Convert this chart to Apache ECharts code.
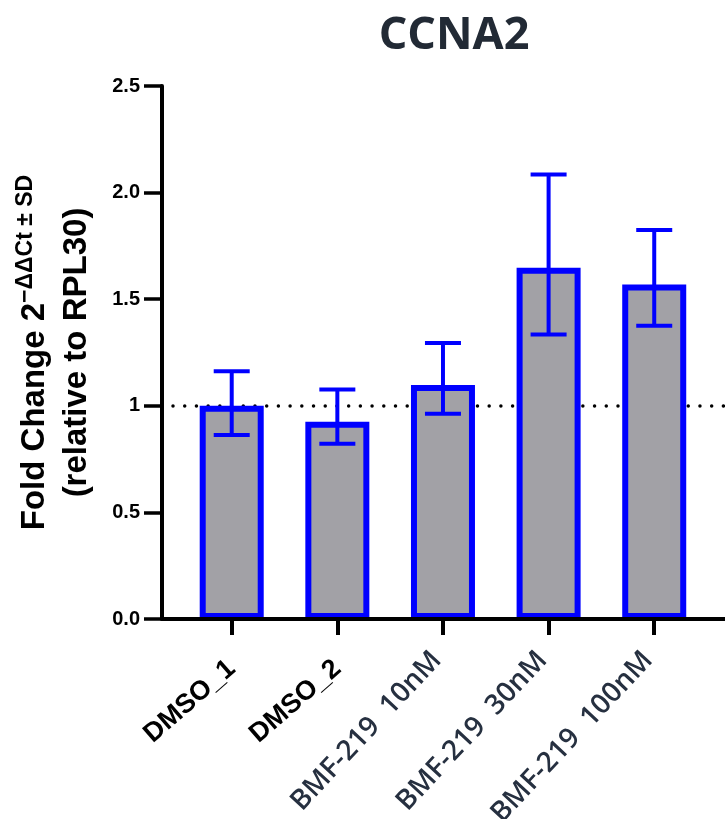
<!DOCTYPE html>
<html>
<head>
<meta charset="utf-8">
<script src="https://cdn.jsdelivr.net/npm/echarts@6/dist/echarts.min.js"></script>
<style>
html,body{margin:0;padding:0;background:#fff;}
#chart{width:725px;height:819px;}
</style>
</head>
<body>
<div id="chart"></div>
<script>
const categories = ['DMSO_1', 'DMSO_2', 'BMF-219  10nM', 'BMF-219  30nM', 'BMF-219  100nM'];
const meanValues = [1.0, 0.925, 1.097, 1.648, 1.569];
const errLow = [0.863, 0.822, 0.963, 1.335, 1.375];
const errHigh = [1.162, 1.076, 1.294, 2.085, 1.825];
const yTickValues = [0, 0.5, 1, 1.5, 2, 2.5];
const referenceLevel = 1;
const titleText = 'CCNA2';

const chart = echarts.init(document.getElementById('chart'), null, {renderer: 'canvas'});
const idx = categories.map((c, i) => i);
const xMin = -0.66, xMax = 4.67;

const option = {
  backgroundColor: '#ffffff',
  animation: false,
  title: {
    text: titleText,
    left: 449,
    top: 9,
    textAlign: 'center',
    textStyle: {fontFamily: 'Open Sans', fontWeight: 700, fontSize: 45, color: '#222a35'}
  },
  grid: {left: 162, right: 0, top: 86, bottom: 200, containLabel: false, outerBoundsMode: 'none'},
  xAxis: [{
    type: 'value', min: xMin, max: xMax, position: 'bottom', z: 10,
    axisLine: {show: true, onZero: false, lineStyle: {color: '#000', width: 4}},
    axisTick: {show: true, customValues: idx, length: 16, lineStyle: {color: '#000', width: 4}},
    splitLine: {show: false},
    axisLabel: {
      customValues: [0, 1], rotate: 41, margin: 46,
      formatter: v => categories[Math.round(v)],
      fontFamily: 'Liberation Sans', fontWeight: 'bold', fontSize: 27, color: '#000'
    }
  }, {
    type: 'value', min: xMin, max: xMax, position: 'bottom', gridIndex: 0,
    axisLine: {show: false, onZero: false}, axisTick: {show: false}, splitLine: {show: false},
    axisLabel: {
      customValues: [2, 3, 4], rotate: 47, margin: 30, padding: [0, 9, 0, 0],
      formatter: v => categories[Math.round(v)],
      fontFamily: 'Open Sans', fontWeight: 600, fontSize: 28, color: '#263040'
    }
  }],
  yAxis: {
    type: 'value', min: 0, max: 2.5, interval: 0.5,
    axisLine: {show: true, onZero: false, lineStyle: {color: '#000', width: 4}},
    axisTick: {show: true, length: 18, lineStyle: {color: '#000', width: 3.5}},
    splitLine: {show: false},
    axisLabel: {
      margin: 22, fontFamily: 'Liberation Sans', fontWeight: 'bold', fontSize: 20, color: '#000',
      formatter: v => (yTickValues.includes(v) ? (v === 1 ? '1' : v.toFixed(1)) : '')
    },
    name: '{m|Fold Change 2}{s|−ΔΔCt ± SD}\n{m|(relative to RPL30)}',
    nameLocation: 'middle',
    nameGap: 64,
    nameTextStyle: {
      color: '#000',
      rich: {
        m: {fontFamily: 'Liberation Sans', fontWeight: 'bold', fontSize: 33, lineHeight: 42, color: '#000'},
        s: {fontFamily: 'Liberation Sans', fontWeight: 'bold', fontSize: 23, lineHeight: 22, verticalAlign: 'top', color: '#000'}
      }
    }
  },
  series: [{
    type: 'bar',
    xAxisIndex: 0,
    data: idx.map(i => [i, meanValues[i]]),
    barWidth: 64,
    itemStyle: {color: '#a2a1a6', borderColor: '#0000ff', borderWidth: 6},
    z: 3,
    markLine: {
      z: 1,
      silent: true,
      symbol: 'none',
      label: {show: false},
      lineStyle: {color: '#000', type: [0.01, 11.7], width: 3.5, cap: 'round', dashOffset: -11},
      data: [{yAxis: referenceLevel}]
    }
  }, {
    type: 'custom',
    xAxisIndex: 0,
    z: 5,
    data: idx.map(i => [i, errLow[i], errHigh[i]]),
    encode: {x: 0, y: [1, 2]},
    renderItem: function (params, api) {
      const x = api.value(0);
      const lo = api.coord([x, api.value(1)]);
      const hi = api.coord([x, api.value(2)]);
      const hw = 18;
      const st = {stroke: '#0000ff', lineWidth: 4};
      return {
        type: 'group',
        children: [
          {type: 'line', shape: {x1: lo[0], y1: lo[1], x2: hi[0], y2: hi[1]}, style: st},
          {type: 'line', shape: {x1: hi[0] - hw, y1: hi[1], x2: hi[0] + hw, y2: hi[1]}, style: st},
          {type: 'line', shape: {x1: lo[0] - hw, y1: lo[1], x2: lo[0] + hw, y2: lo[1]}, style: st}
        ]
      };
    }
  }]
};
chart.setOption(option);
</script>
</body>
</html>
